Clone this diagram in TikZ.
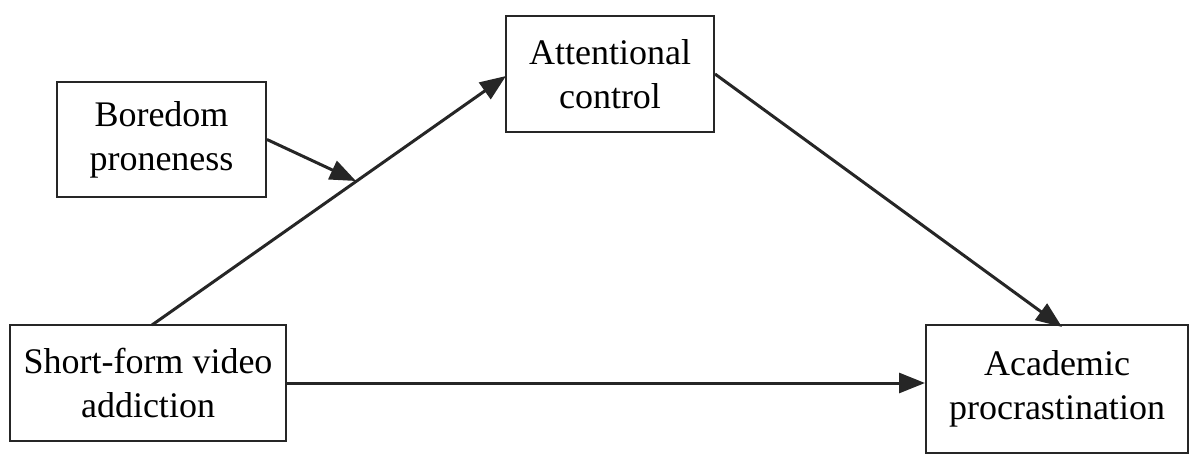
\documentclass[tikz,border=0pt]{standalone}
\usepackage{fontspec}
\setmainfont{Liberation Serif}
\usetikzlibrary{arrows.meta}
\begin{document}
\begin{tikzpicture}[x=1pt,y=-1pt,
  box/.style={draw=black!85,line width=2pt,align=center,font=\fontsize{36}{44}\selectfont,inner sep=0pt},
  arr/.style={draw=black!85,line width=3pt,-{Triangle[length=26pt,width=20pt]}}]
\useasboundingbox (0,0) rectangle (1200,469);
\node[box,minimum width=209pt,minimum height=115pt] (b) at (161.5,139.5) {Boredom\\proneness};
\node[box,minimum width=208pt,minimum height=116pt] (a) at (610,74) {Attentional\\control};
\node[box,minimum width=276pt,minimum height=116pt] (s) at (148,383) {Short-form video\\addiction};
\node[box,minimum width=262pt,minimum height=128pt] (p) at (1057,389) {Academic\\procrastination};
\coordinate (sa) at (152,325);
\coordinate (aa) at (506,76);
\coordinate (m) at (356,181);
\draw[arr] (sa) -- (aa);
\draw[arr] (b.east) -- (m);
\draw[arr] (a.east) -- (1062,327);
\draw[arr] (s.east) -- (p.west |- s.east);
\end{tikzpicture}
\end{document}
